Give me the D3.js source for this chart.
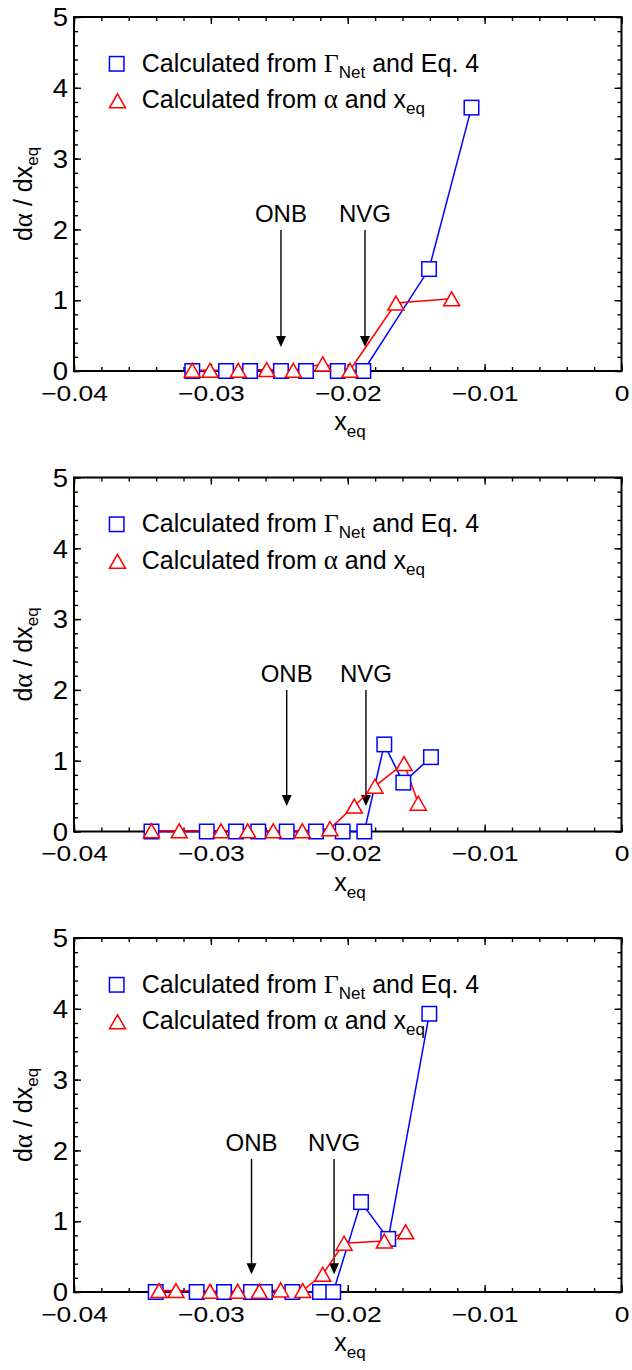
<!DOCTYPE html>
<html>
<head>
<meta charset="utf-8">
<script src="https://cdn.jsdelivr.net/npm/d3@7"></script>
<style>
  html, body { margin: 0; padding: 0; background: #fff; }
  svg { display: block; }
  text { font-family: "Liberation Sans", Arial, Helvetica, sans-serif; fill: #000; }
  .serif { font-family: "Liberation Serif", "Times New Roman", serif; }
</style>
</head>
<body>
<svg id="chart" width="632" height="1370"></svg>
<script>
// ---- axis ticks ----
const xTicks = [-0.04, -0.03, -0.02, -0.01, 0];
const xTickLabels = ["\u22120.04", "\u22120.03", "\u22120.02", "\u22120.01", "0"];
const xMinorTicks = d3.range(-0.04, 0.0001, 0.002);
const yTicks = [0, 1, 2, 3, 4, 5];
const yMinorTicks = d3.range(0, 5.0001, 0.2);

// ---- panel 1 ----
const netX1 = [-0.03136, -0.02889, -0.02714, -0.02488, -0.02305, -0.02073, -0.01886, -0.01406, -0.01096];
const netY1 = [0, 0, 0, 0, 0, 0, 0, 1.44, 3.72];
const alphaX1 = [-0.03136, -0.03006, -0.02800, -0.02592, -0.02398, -0.02183, -0.01984, -0.01648, -0.01241];
const alphaY1 = [0.01, 0.01, 0.01, 0.02, 0.01, 0.10, 0.01, 0.96, 1.02];

// ---- panel 2 ----
const netX2 = [-0.03434, -0.03030, -0.02816, -0.02654, -0.02446, -0.02232, -0.02037, -0.01879, -0.01733, -0.01594, -0.01392];
const netY2 = [0, 0, 0, 0, 0, 0, 0, 0, 1.23, 0.69, 1.05];
const alphaX2 = [-0.03434, -0.03231, -0.02926, -0.02731, -0.02544, -0.02332, -0.02130, -0.01952, -0.01801, -0.01589, -0.01485];
const alphaY2 = [0.01, 0.01, 0.01, 0.01, 0.01, 0.01, 0.04, 0.36, 0.64, 0.96, 0.40];

// ---- panel 3 ----
const netX3 = [-0.03403, -0.03104, -0.02904, -0.02707, -0.02605, -0.02405, -0.02203, -0.02106, -0.01903, -0.01704, -0.01404];
const netY3 = [0, 0, 0, 0, 0, 0, 0, 0, 1.27, 0.75, 3.93];
const alphaX3 = [-0.03379, -0.03255, -0.03006, -0.02804, -0.02646, -0.02490, -0.02329, -0.02183, -0.02027, -0.01733, -0.01577];
const alphaY3 = [0.02, 0.02, 0.01, 0.01, 0.01, 0.03, 0.02, 0.25, 0.69, 0.72, 0.85];

// ---- ONB / NVG markers per panel ----
const onbX = [-0.02488, -0.02446, -0.02703];
const nvgX = [-0.01874, -0.01867, -0.02100];
const arrowFrom = [1.99, 2.00, 1.88];
const arrowTo = [0.34, 0.36, 0.25];

const panels = [
  { netX: netX1, netY: netY1, alphaX: alphaX1, alphaY: alphaY1 },
  { netX: netX2, netY: netY2, alphaX: alphaX2, alphaY: alphaY2 },
  { netX: netX3, netY: netY3, alphaX: alphaX3, alphaY: alphaY3 }
];

// ---- layout ----
const plotLeft = 74, plotRight = 621.5, plotH = 354;
const panelTops = [17, 477.5, 938];
const blue = "#0000ff", red = "#ff0000";
const sqSize = 14.5, triW = 16, triH = 14;

const svg = d3.select("#chart");
const x = d3.scaleLinear().domain([-0.04, 0]).range([plotLeft, plotRight]);

function trianglePath(cx, cy) {
  return `M${cx},${cy - triH / 2}L${cx + triW / 2},${cy + triH / 2}L${cx - triW / 2},${cy + triH / 2}Z`;
}

panels.forEach((p, i) => {
  const top = panelTops[i];
  const bottom = top + plotH;
  const y = d3.scaleLinear().domain([0, 5]).range([bottom, top]);
  const g = svg.append("g");

  // inward ticks on all four sides
  const major = 7, minor = 4;
  const addAxis = (axisFn, scale, vals, size, tx, ty, labels) => {
    const a = axisFn(scale).tickValues(vals).tickSizeInner(-size).tickSizeOuter(0);
    if (!labels) a.tickFormat("");
    else a.tickFormat((d, k) => labels[k]);
    const ag = g.append("g").attr("transform", `translate(${tx},${ty})`).call(a);
    ag.select(".domain").remove();
    ag.selectAll(".tick line").attr("stroke", "#000").attr("stroke-width", 1.4);
    return ag;
  };
  addAxis(d3.axisBottom, x, xMinorTicks, minor, 0, bottom);
  addAxis(d3.axisTop, x, xMinorTicks, minor, 0, top);
  addAxis(d3.axisTop, x, xTicks, major, 0, top);
  addAxis(d3.axisLeft, y, yMinorTicks, minor, plotLeft, 0);
  addAxis(d3.axisRight, y, yMinorTicks, minor, plotRight, 0);
  addAxis(d3.axisRight, y, yTicks, major, plotRight, 0);

  const xa = addAxis(d3.axisBottom, x, xTicks, major, 0, bottom, xTickLabels);
  xa.selectAll(".tick text")
    .attr("y", 30).attr("dy", 0)
    .attr("font-size", 22)
    .attr("transform", "scale(1.2,1)")
    .attr("fill", "#000");

  const ya = addAxis(d3.axisLeft, y, yTicks, major, plotLeft, 0, yTicks.map(String));
  ya.selectAll(".tick text")
    .attr("x", -6 / 1.1).attr("dy", "0.35em")
    .attr("font-size", 25)
    .attr("transform", "scale(1.1,1)")
    .attr("fill", "#000");

  // frame
  g.append("rect")
    .attr("x", plotLeft).attr("y", top)
    .attr("width", plotRight - plotLeft).attr("height", plotH)
    .attr("fill", "none").attr("stroke", "#000").attr("stroke-width", 2);

  // axis titles
  const yt = g.append("text")
    .attr("transform", `translate(32,${(top + bottom) / 2}) rotate(-90)`)
    .attr("text-anchor", "middle").attr("font-size", 25);
  yt.append("tspan").text("d");
  yt.append("tspan").attr("class", "serif").attr("font-size", 27).text("\u03b1");
  yt.append("tspan").text(" / dx");
  yt.append("tspan").attr("font-size", 17).attr("dy", 6).text("eq");

  const xt = g.append("text")
    .attr("x", 350).attr("y", bottom + 59)
    .attr("text-anchor", "middle").attr("font-size", 25);
  xt.append("tspan").text("x");
  xt.append("tspan").attr("font-size", 17).attr("dy", 7).text("eq");

  // ONB / NVG arrows
  [[onbX[i], "ONB"], [nvgX[i], "NVG"]].forEach(([ax, label]) => {
    const px = x(ax), y1 = y(arrowFrom[i]), y2 = y(arrowTo[i]);
    g.append("line")
      .attr("x1", px).attr("x2", px).attr("y1", y1).attr("y2", y2 - 9)
      .attr("stroke", "#000").attr("stroke-width", 1.4);
    g.append("path")
      .attr("d", `M${px},${y2}L${px + 5},${y2 - 11}L${px - 5},${y2 - 11}Z`)
      .attr("fill", "#000");
    g.append("text")
      .attr("x", px).attr("y", y1 - 8)
      .attr("text-anchor", "middle").attr("font-size", 24)
      .text(label);
  });

  // series lines
  const netPts = p.netX.map((v, k) => [v, p.netY[k]]);
  const alphaPts = p.alphaX.map((v, k) => [v, p.alphaY[k]]);
  const line = d3.line().x(d => x(d[0])).y(d => y(d[1]));
  g.append("path").attr("d", line(netPts))
    .attr("fill", "none").attr("stroke", blue).attr("stroke-width", 1.5);
  g.append("path").attr("d", line(alphaPts))
    .attr("fill", "none").attr("stroke", red).attr("stroke-width", 1.5);

  // markers
  g.selectAll(".sq").data(netPts).join("rect")
    .attr("x", d => x(d[0]) - sqSize / 2).attr("y", d => y(d[1]) - sqSize / 2)
    .attr("width", sqSize).attr("height", sqSize)
    .attr("fill", "#fff").attr("stroke", blue).attr("stroke-width", 1.5);
  g.selectAll(".tri").data(alphaPts).join("path")
    .attr("d", d => trianglePath(x(d[0]), y(d[1])))
    .attr("fill", "#fff").attr("stroke", red).attr("stroke-width", 1.5);

  // legend
  g.append("rect")
    .attr("x", 116.7 - sqSize / 2).attr("y", top + 46.8 - sqSize / 2)
    .attr("width", sqSize).attr("height", sqSize)
    .attr("fill", "#fff").attr("stroke", blue).attr("stroke-width", 1.5);
  const l1 = g.append("text").attr("x", 141.7).attr("y", top + 54.7).attr("font-size", 25);
  l1.append("tspan").text("Calculated from ");
  l1.append("tspan").attr("class", "serif").attr("font-size", 26).text("\u0393");
  l1.append("tspan").attr("font-size", 17).attr("dy", 6).text("Net");
  l1.append("tspan").attr("dy", -6).text(" and Eq. 4");

  g.append("path")
    .attr("d", trianglePath(117.5, top + 83.8))
    .attr("fill", "#fff").attr("stroke", red).attr("stroke-width", 1.5);
  const l2 = g.append("text").attr("x", 141.7).attr("y", top + 91.3).attr("font-size", 25);
  l2.append("tspan").text("Calculated from ");
  l2.append("tspan").attr("class", "serif").attr("font-size", 27).text("\u03b1");
  l2.append("tspan").text(" and x");
  l2.append("tspan").attr("font-size", 17).attr("dy", 6).text("eq");
});
</script>
</body>
</html>
